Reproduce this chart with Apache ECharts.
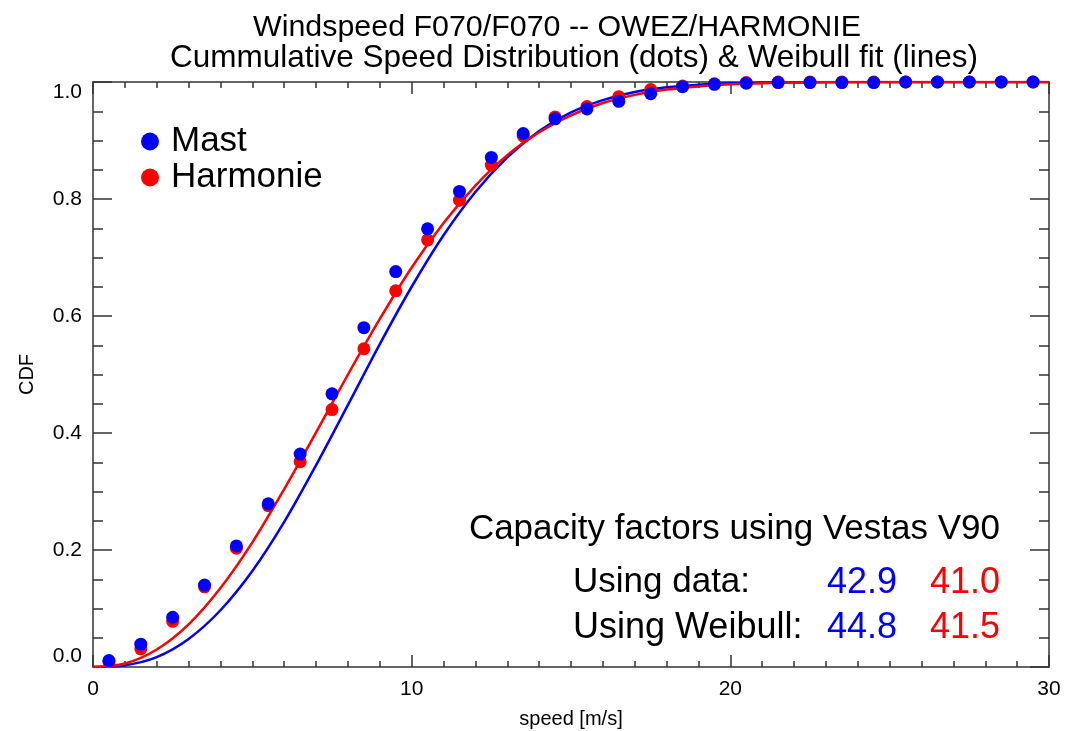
<!DOCTYPE html>
<html>
<head>
<meta charset="utf-8">
<script src="https://cdn.jsdelivr.net/npm/echarts@6/dist/echarts.min.js"></script>
<style>
html,body{margin:0;padding:0;background:#fff;}
#chart{width:1069px;height:731px;}
</style>
</head>
<body>
<div id="chart"></div>
<script>
// ---- data ----
var titleLines = ['Windspeed F070/F070 -- OWEZ/HARMONIE', 'Cummulative Speed Distribution (dots) & Weibull fit (lines)'];
var seriesNames = ['Mast', 'Harmonie'];
var dotSpeeds = [0.5,1.5,2.5,3.5,4.5,5.5,6.5,7.5,8.5,9.5,10.5,11.5,12.5,13.5,14.5,15.5,16.5,17.5,18.5,19.5,20.5,21.5,22.5,23.5,24.5,25.5,26.5,27.5,28.5,29.5];
var mastCdf = [0.011,0.039,0.085,0.140,0.207,0.279,0.364,0.467,0.580,0.676,0.749,0.813,0.871,0.912,0.937,0.954,0.967,0.980,0.992,0.996,0.998,0.999,0.999,0.999,0.999,1.0,1.0,1.0,1.0,1.0];
var harmCdf = [0.009,0.031,0.078,0.137,0.203,0.276,0.351,0.440,0.544,0.643,0.730,0.798,0.858,0.908,0.940,0.958,0.975,0.987,0.993,0.997,0.999,1.0,1.0,1.0,1.0,1.0,1.0,1.0,1.0,1.0];
var fitSpeeds = [0,1,2,3,4,5,6,7,8,9,10,11,12,13,14,15,16,17,18,19,20,21,22,23,24,25,26,27,28,29,30];
var mastFit = [0,0.003,0.017,0.048,0.097,0.164,0.248,0.345,0.448,0.552,0.650,0.738,0.812,0.871,0.916,0.948,0.969,0.983,0.991,0.9955,0.998,0.999,0.9996,0.9998,0.9999,1,1,1,1,1,1];
var harmFit = [0,0.006,0.030,0.073,0.135,0.213,0.304,0.401,0.500,0.595,0.683,0.759,0.823,0.875,0.914,0.943,0.964,0.978,0.987,0.9925,0.996,0.998,0.999,0.9995,0.9998,0.9999,1,1,1,1,1];
var capTitle = 'Capacity factors using Vestas V90';
var capRows = ['Using data:', 'Using Weibull:'];
var capMast = ['42.9', '44.8'];
var capHarm = ['41.0', '41.5'];
var xAxisName = 'speed [m/s]';
var yAxisName = 'CDF';

var BLUE = '#0000ff', RED = '#ff0000', AX = '#333333';
var FONT = '"Liberation Sans", Arial, sans-serif';

function zip(xs, ys){ return xs.map(function(x,i){ return [x, ys[i]]; }); }

var axLine = {show:true, onZero:false, lineStyle:{color:AX, width:1.5}};
function xAx(pos, showLabel){
  return {
    type:'value', position:pos, min:0, max:30, interval:10,
    name: showLabel ? xAxisName : '', nameLocation:'middle', nameGap:42,
    nameTextStyle:{color:'#000', fontSize:20, fontFamily:FONT},
    axisLine:axLine,
    axisTick:{show:true, inside:true, length:12, lineStyle:{color:AX, width:1.5}},
    minorTick:{show:true, splitNumber:10, length:6, lineStyle:{color:AX, width:1.5}},
    axisLabel:{show:showLabel, color:'#000', fontSize:21, fontFamily:FONT, margin:12},
    splitLine:{show:false}, minorSplitLine:{show:false}
  };
}
function yAx(pos, showLabel){
  return {
    type:'value', position:pos, min:0, max:1, interval:0.2,
    name: showLabel ? yAxisName : '', nameLocation:'middle', nameGap:56,
    nameTextStyle:{color:'#000', fontSize:20, fontFamily:FONT},
    axisLine:axLine,
    axisTick:{show:true, inside:true, length:19, lineStyle:{color:AX, width:1.5}},
    minorTick:{show:true, splitNumber:4, length:10, lineStyle:{color:AX, width:1.5}},
    axisLabel:{show:showLabel, color:'#000', fontSize:21, fontFamily:FONT, margin:11,
      verticalAlignMaxLabel:'top', verticalAlignMinLabel:'bottom',
      formatter:function(v){ return v.toFixed(1); }},
    splitLine:{show:false}, minorSplitLine:{show:false}
  };
}

var chart = echarts.init(document.getElementById('chart'), null, {renderer:'canvas'});
var option = {
  backgroundColor:'#fff',
  animation:false,
  title:[
    {text: titleLines[0], left:552, textAlign:'center', top:8,
      textStyle:{fontSize:30.4, fontWeight:'normal', color:'#000', fontFamily:FONT}},
    {text: titleLines[1], left:569, textAlign:'center', top:37,
      textStyle:{fontSize:31.5, fontWeight:'normal', color:'#000', fontFamily:FONT}}
  ],
  grid:{left:93, right:20, top:82, bottom:64, containLabel:false, outerBoundsMode:'none'},
  legend:{
    data:seriesNames, orient:'vertical', left:136, top:119, icon:'circle',
    itemWidth:32, itemHeight:18, itemGap:1, selectedMode:false,
    textStyle:{fontSize:35, color:'#000', fontFamily:FONT, lineHeight:34}
  },
  xAxis:[xAx('bottom', true), xAx('top', false)],
  yAxis:[yAx('left', true), yAx('right', false)],
  series:[
    {name:'Mast fit', type:'line', data:zip(fitSpeeds, mastFit), smooth:0.3, showSymbol:false,
      lineStyle:{color:BLUE, width:2.5}, itemStyle:{color:BLUE}, z:2},
    {name:'Harmonie fit', type:'line', data:zip(fitSpeeds, harmFit), smooth:0.3, showSymbol:false,
      lineStyle:{color:RED, width:2.5}, itemStyle:{color:RED}, z:2},
    {name:seriesNames[1], type:'scatter', data:zip(dotSpeeds, harmCdf), symbol:'circle', symbolSize:13,
      itemStyle:{color:RED, opacity:1}, z:3},
    {name:seriesNames[0], type:'scatter', data:zip(dotSpeeds, mastCdf), symbol:'circle', symbolSize:13,
      itemStyle:{color:BLUE, opacity:1}, z:4}
  ],
  graphic:[
    {type:'text', right:69, top:512, style:{text:capTitle, font:'35px '+FONT, fill:'#000'}},
    {type:'text', left:573, top:565, style:{text:capRows[0], font:'35px '+FONT, fill:'#000'}},
    {type:'text', left:573, top:610, style:{text:capRows[1], font:'36px '+FONT, fill:'#000'}},
    {type:'text', right:172, top:565, style:{text:capMast[0], font:'36px '+FONT, fill:BLUE}},
    {type:'text', right:172, top:610, style:{text:capMast[1], font:'36px '+FONT, fill:BLUE}},
    {type:'text', right:69, top:565, style:{text:capHarm[0], font:'36px '+FONT, fill:RED}},
    {type:'text', right:69, top:610, style:{text:capHarm[1], font:'36px '+FONT, fill:RED}}
  ]
};
chart.setOption(option);
</script>
</body>
</html>
